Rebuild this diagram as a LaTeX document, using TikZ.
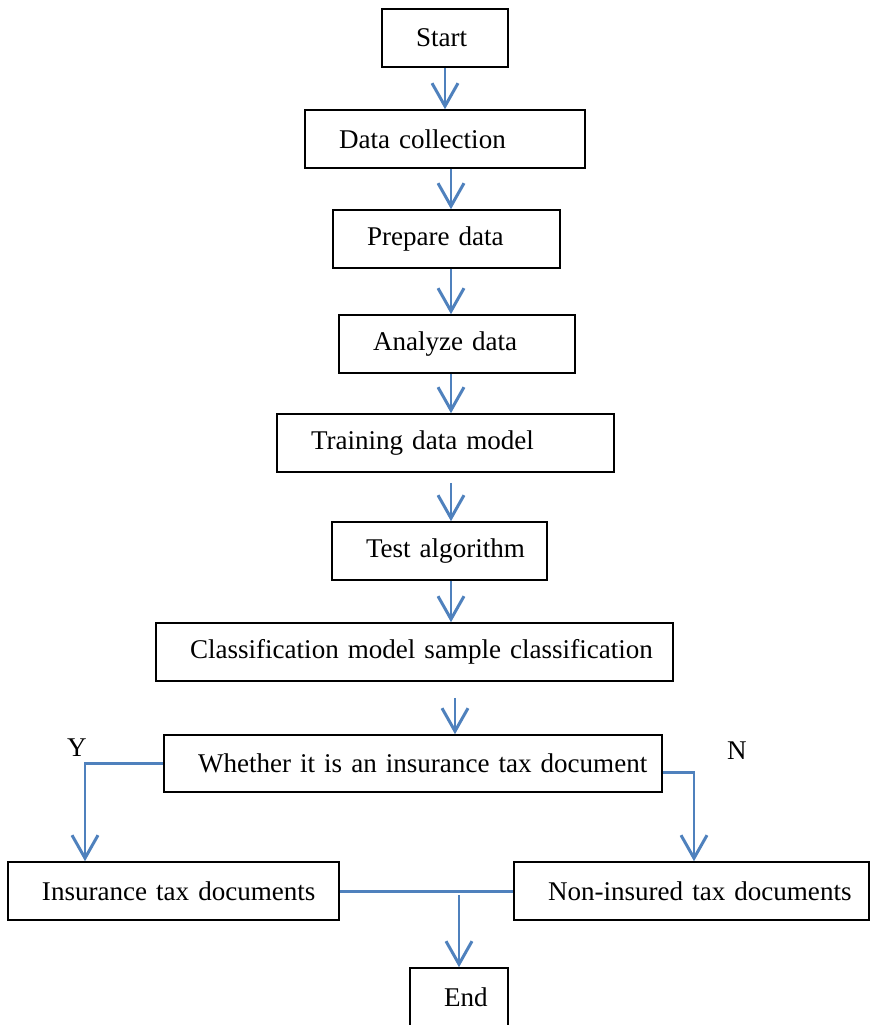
\documentclass[tikz,border=0pt]{standalone}
\usepackage{fontspec}
\setmainfont{Liberation Serif}
\usetikzlibrary{arrows.meta,positioning}
\definecolor{flowblue}{RGB}{79,129,189}
\newlength{\px}
\setlength{\px}{0.02cm}

\begin{document}
\begin{tikzpicture}[x=0.02cm, y=-0.02cm,
  every node/.style={font=\fontsize{15.4pt}{18pt}\selectfont},
  stepbox/.style={draw, line width=0.9pt, align=left, inner xsep=0pt, inner ysep=0pt,
    minimum height=58\px, execute at begin node={\hspace*{34\px}}},
  flow/.style={draw=flowblue, line width=1.7pt, -{Straight Barb[length=0.46cm, width=0.52cm]}},
  link/.style={draw=flowblue, line width=1.7pt}]
  \useasboundingbox (0,0) rectangle (870,1025);
  % process steps
  \node[stepbox, text width=126\px] (start) at (445,38) {Start};
  \node[stepbox, text width=280\px] (collect) at (445,139) {Data collection};
  \node[stepbox, text width=227\px] (prepare) at (446.5,239) {Prepare data};
  \node[stepbox, text width=236\px] (analyze) at (457,344) {Analyze data};
  \node[stepbox, text width=337\px] (train) at (445.5,443) {Training data model};
  \node[stepbox, text width=215\px] (test) at (439.5,551) {Test algorithm};
  \node[stepbox, text width=517\px] (classify) at (414.5,652) {Classification model sample classification};
  \node[stepbox, text width=498\px, minimum height=57\px] (whether) at (413,763.5) {Whether it is an insurance tax document};
  \node[stepbox, text width=331\px] (insured) at (173.5,891) {Insurance tax documents};
  \node[stepbox, text width=355\px] (noninsured) at (691.5,891) {Non-insured tax documents};
  \node[stepbox, text width=98\px] (end) at (459,997) {End};
  \node (ylabel) at (77,748) {Y};
  \node (nlabel) at (737,751) {N};
  % connectors
  \coordinate (spine) at (451,0);
  \coordinate (spinetwo) at (455,0);
  \coordinate (ydrop) at (85,0);
  \coordinate (ndrop) at (694,0);
  \draw[flow] (start.south) -- (collect.north);
  \draw[flow] (collect.south -| spine) -- (prepare.north -| spine);
  \draw[flow] (prepare.south -| spine) -- (analyze.north -| spine);
  \draw[flow] (analyze.south -| spine) -- (train.north -| spine);
  \draw[flow] ([yshift=-10\px]train.south -| spine) -- (test.north -| spine);
  \draw[flow] (test.south -| spine) -- (classify.north -| spine);
  \draw[flow] ([yshift=-16\px]classify.south -| spinetwo) -- (whether.north -| spinetwo);
  \draw[flow] (whether.west) -| (insured.north -| ydrop);
  \draw[flow] ([yshift=-8.5\px]whether.east) -| (noninsured.north -| ndrop);
  \draw[link] (insured.east) -- (noninsured.west);
  \draw[flow] ([yshift=-4\px]insured.east -| end) -- (end.north);
\end{tikzpicture}
\end{document}
